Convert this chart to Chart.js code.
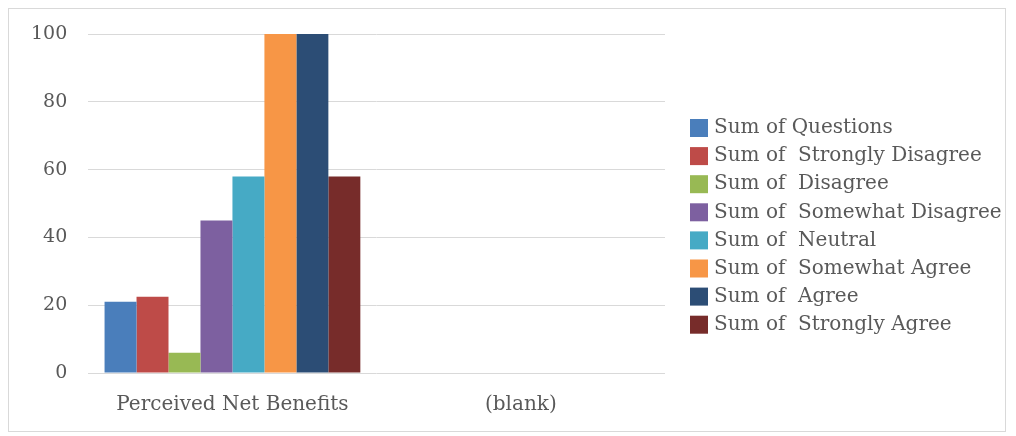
<!DOCTYPE html>
<html>
<head>
<meta charset="utf-8">
<script src="https://cdn.jsdelivr.net/npm/chart.js@4"></script>
<style>
    body { margin: 0; background: #fff; }
    #wrap { position: absolute; left: 8px; top: 8px; width: 998px; height: 424px; border: 1px solid #d9d9d9; box-sizing: border-box; }
</style>
</head>
<body>
<div id="wrap"><canvas id="myChart"></canvas></div>
<script>
var categories = ['Perceived Net Benefits', '(blank)'];
var seriesNames = ['Sum of Questions', 'Sum of  Strongly Disagree', 'Sum of  Disagree', 'Sum of  Somewhat Disagree',
    'Sum of  Neutral', 'Sum of  Somewhat Agree', 'Sum of  Agree', 'Sum of  Strongly Agree'];
var questions = [21, null];
var stronglyDisagree = [22.5, null];
var disagree = [6, null];
var somewhatDisagree = [45, null];
var neutral = [58, null];
var somewhatAgree = [100, null];
var agree = [100, null];
var stronglyAgree = [58, null];
var yTicks = [0, 20, 40, 60, 80, 100];
var colors = ['#4a7ebb', '#be4b48', '#98b954', '#7d60a0', '#46aac5', '#f79646', '#2c4d75', '#772c2a'];

var seriesValues = [questions, stronglyDisagree, disagree, somewhatDisagree, neutral, somewhatAgree, agree, stronglyAgree];
var fontFamily = '"DejaVu Serif", serif';

// the built-in legend is capped at a quarter of the width here, so draw it ourselves
var sideLegend = {
    id: 'sideLegend',
    afterDraw: function (chart) {
        var c = chart.ctx;
        var sets = chart.data.datasets;
        var rowH = 28.1;
        var x = chart.chartArea.right + 25;
        var y0 = chart.chartArea.top + 94;
        c.save();
        c.font = '20px ' + fontFamily;
        c.textBaseline = 'middle';
        sets.forEach(function (ds, i) {
            var y = y0 + i * rowH;
            c.fillStyle = ds.backgroundColor;
            c.fillRect(x, y - 9, 18, 18);
            c.fillStyle = '#595959';
            c.fillText(ds.label, x + 24, y);
        });
        c.restore();
    }
};

document.addEventListener('DOMContentLoaded', function () {
    var ctx = document.getElementById('myChart').getContext('2d');
    new Chart(ctx, {
        type: 'bar',
        data: {
            labels: categories,
            datasets: seriesValues.map(function (vals, i) {
                return {
                    label: seriesNames[i],
                    data: vals,
                    backgroundColor: colors[i],
                    borderWidth: 0,
                    barPercentage: 1,
                    categoryPercentage: 0.887
                };
            })
        },
        options: {
            responsive: true,
            maintainAspectRatio: false,
            animation: false,
            layout: { padding: { top: 25, left: 22, right: 340, bottom: 2 } },
            plugins: {
                tooltip: { enabled: false },
                legend: { display: false }
            },
            scales: {
                x: {
                    grid: { display: false },
                    border: { display: false },
                    ticks: { color: '#595959', padding: 12, font: { family: fontFamily, size: 20 } }
                },
                y: {
                    min: 0,
                    max: 100,
                    afterBuildTicks: function (axis) {
                        axis.ticks = yTicks.map(function (v) { return { value: v }; });
                    },
                    grid: { color: '#d9d9d9', drawTicks: true, tickLength: 21, tickColor: 'rgba(0,0,0,0)' },
                    border: { display: false },
                    ticks: { color: '#595959', padding: 0, font: { family: fontFamily, size: 19 } }
                }
            }
        },
        plugins: [sideLegend]
    });
});
</script>
</body>
</html>
